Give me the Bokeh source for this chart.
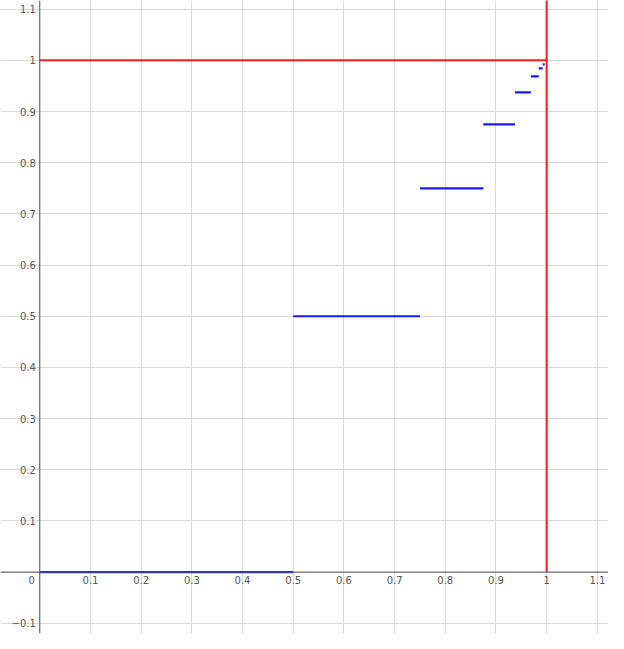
import math
from bokeh.plotting import figure
from bokeh.models import Range1d, Grid, FixedTicker, Span, ColumnDataSource
from bokeh.core.properties import value
from bokeh.embed import file_html
from bokeh.resources import INLINE

# step function segments: y = level on [start, end)
seg_start = [0, 0.5, 0.75, 0.875, 0.9375, 0.96875, 0.984375, 0.9921875]
seg_end = [0.5, 0.75, 0.875, 0.9375, 0.96875, 0.984375, 0.9921875, 0.99609375]
seg_level = [0, 0.5, 0.75, 0.875, 0.9375, 0.96875, 0.984375, 0.9921875]

# red limit lines
limit_h_x = [0, 1]
limit_h_y = [1, 1]
limit_v_x = [1]
limit_v_y = [0]

# tick values and labels
x_ticks = [0.1, 0.2, 0.3, 0.4, 0.5, 0.6, 0.7, 0.8, 0.9, 1.0, 1.1]
x_labels = ["0.1", "0.2", "0.3", "0.4", "0.5", "0.6", "0.7", "0.8", "0.9", "1", "1.1"]
y_ticks = [-0.1, 0.1, 0.2, 0.3, 0.4, 0.5, 0.6, 0.7, 0.8, 0.9, 1.0, 1.1]
y_labels = ["\u22120.1", "0.1", "0.2", "0.3", "0.4", "0.5", "0.6", "0.7", "0.8", "0.9", "1", "1.1"]
grid_x = [-0.1, 0, 0.1, 0.2, 0.3, 0.4, 0.5, 0.6, 0.7, 0.8, 0.9, 1.0, 1.1]
grid_y = [-0.1, 0, 0.1, 0.2, 0.3, 0.4, 0.5, 0.6, 0.7, 0.8, 0.9, 1.0, 1.1]

p = figure(width=608, height=633,
           x_range=Range1d(-0.0775, 1.122), y_range=Range1d(-0.12, 1.117),
           x_axis_type=None, y_axis_type=None,
           output_backend="svg", toolbar_location=None, min_border=0)
p.outline_line_color = None
p.background_fill_color = "white"

p.add_layout(Grid(dimension=0, ticker=FixedTicker(ticks=grid_x),
                  grid_line_color="#d9d9d9", grid_line_width=1))
p.add_layout(Grid(dimension=1, ticker=FixedTicker(ticks=grid_y),
                  grid_line_color="#d9d9d9", grid_line_width=1))

p.add_layout(Span(location=0, dimension="height", line_color="#555555", line_width=1))
p.add_layout(Span(location=0, dimension="width", line_color="#555555", line_width=1))

src = ColumnDataSource(dict(x0=seg_start, x1=seg_end, y=seg_level))
p.segment(x0="x0", y0="y", x1="x1", y1="y", source=src, line_color="#1a1aff", line_width=2.2)

p.line(limit_h_x, limit_h_y, line_color="#ff1a1a", line_width=2)
p.ray(x=limit_v_x, y=limit_v_y, length=0, angle=math.pi / 2, line_color="#ff1a1a", line_width=2)

font = value("DejaVu Sans")
p.text(x=x_ticks, y=[0] * len(x_ticks), text=x_labels, text_align="center", text_baseline="top",
       y_offset=4, text_font=font, text_font_size="10px", text_color="#555555")
p.text(x=[0] * len(y_ticks), y=y_ticks, text=y_labels, text_align="right", text_baseline="middle",
       x_offset=-4, text_font=font, text_font_size="10px", text_color="#555555")
p.text(x=[0], y=[0], text=["0"], text_align="right", text_baseline="top",
       x_offset=-5, y_offset=4, text_font=font, text_font_size="10px", text_color="#555555")

open("out.html", "w").write(file_html(p, INLINE))
